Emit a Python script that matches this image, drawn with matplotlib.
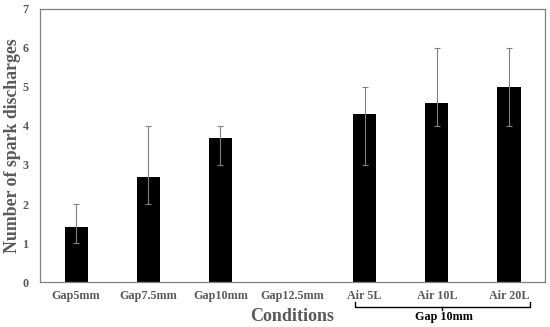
import numpy as np
import matplotlib
matplotlib.use("Agg")
import matplotlib.pyplot as plt
from matplotlib.transforms import blended_transform_factory

conditions = ["Gap5mm", "Gap7.5mm", "Gap10mm", "Gap12.5mm", "Air 5L", "Air 10L", "Air 20L"]
means = [1.4, 2.7, 3.7, 0.0, 4.3, 4.6, 5.0]
err_low = [1.0, 2.0, 3.0, 0.0, 3.0, 4.0, 4.0]
err_high = [2.0, 4.0, 4.0, 0.0, 5.0, 6.0, 6.0]
y_ticks = [0, 1, 2, 3, 4, 5, 6, 7]

plt.rcParams['font.family'] = ['Liberation Serif', 'DejaVu Serif']
gray = '#595959'

fig = plt.figure(figsize=(5.5, 3.27), dpi=100)
ax = fig.add_axes([0.0727, 0.1376, 0.9183, 0.8349])

x = np.arange(len(conditions))
means_arr = np.array(means)
yerr = np.vstack([means_arr - np.array(err_low), np.array(err_high) - means_arr])
show = means_arr > 0

ax.bar(x, means_arr, width=0.32, color='black', zorder=2)
ax.errorbar(x[show], means_arr[show], yerr=yerr[:, show], fmt='none',
            ecolor='#808080', elinewidth=0.8, capsize=2, capthick=0.8, zorder=3)

ax.set_xlim(-0.5, len(conditions) - 0.5)
ax.set_ylim(0, 7)
ax.set_yticks(y_ticks)
ax.set_xticks(x)
ax.set_xticklabels(conditions)
ax.tick_params(length=0, labelsize=8.7, colors=gray, pad=6)
ax.tick_params(axis='y', pad=8)
for lbl in ax.get_xticklabels() + ax.get_yticklabels():
    lbl.set_fontweight('bold')
for sp in ax.spines.values():
    sp.set_color('#808080')
    sp.set_linewidth(0.9)

# y label placed directly so it sits at the left edge like the original
fig.text(12.5 / 550, 1 - 146 / 327, "Number of spark discharges", rotation=90,
         ha='center', va='center', fontsize=12.8, fontweight='bold', color=gray)
ax.text(3, -0.128, "Conditions", transform=blended_transform_factory(ax.transData, ax.transAxes),
        ha='center', va='center', fontsize=13, fontweight='bold', color=gray)

# bracket under the Air conditions
tr = blended_transform_factory(ax.transData, ax.transAxes)
bx0, bx1 = 3.86, 6.29
bmid = 5.07
ax.plot([bx0, bx0, bx1, bx1], [-0.073, -0.092, -0.092, -0.073], color='black',
        lw=1.0, transform=tr, clip_on=False)
ax.plot([bmid, bmid], [-0.092, -0.103], color='black', lw=1.0, transform=tr, clip_on=False)
ax.text(5.1, -0.128, "Gap 10mm", transform=tr, ha='center', va='center',
        fontsize=8.7, fontweight='bold', color='black')

fig.savefig("out.png", dpi=100)
